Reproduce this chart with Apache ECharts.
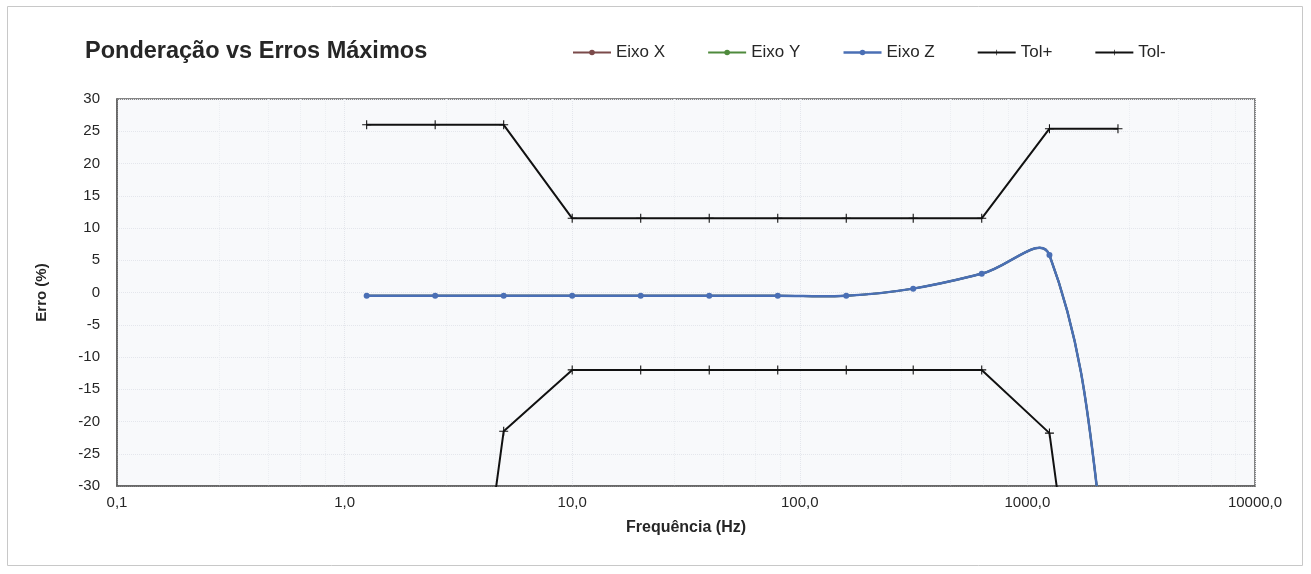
<!DOCTYPE html>
<html>
<head>
<meta charset="utf-8">
<title>Ponderação vs Erros Máximos</title>
<script src="https://cdn.jsdelivr.net/npm/echarts@6/dist/echarts.min.js"></script>
<style>
  html, body { margin: 0; padding: 0; background: #ffffff; }
  #chart { width: 1311px; height: 574px; }
</style>
</head>
<body>
<div id="chart"></div>
<script>
// Frequencies (Hz) of the one-octave measuring points
const freqs = [1.25, 2.5, 5, 10, 20, 40, 80, 160, 315, 630, 1250, 2500];

// Weighting error per axis (%); the last point lies far below the plot
const eixoX = [-0.5, -0.5, -0.5, -0.5, -0.5, -0.5, -0.5, -0.5, 0.6, 2.9, 5.8, -54];
const eixoY = [-0.5, -0.5, -0.5, -0.5, -0.5, -0.5, -0.5, -0.5, 0.6, 2.9, 5.8, -54];
const eixoZ = [-0.5, -0.5, -0.5, -0.5, -0.5, -0.5, -0.5, -0.5, 0.6, 2.9, 5.8, -54];

// Tolerance limits (%)
const tolPlus  = [26, 26, 26, 11.5, 11.5, 11.5, 11.5, 11.5, 11.5, 11.5, 25.4, 25.4];
const tolMinus = [-100, -100, -21.5, -12, -12, -12, -12, -12, -12, -12, -21.8, -100];

// Axis ranges and ticks
const xTicks = [0.1, 1, 10, 100, 1000, 10000];
const yMin = -30, yMax = 30, yStep = 5;

const pair = (vals) => freqs.map((f, i) => [f, vals[i]]);
const plusMark = 'path://M4.4,0 L5.6,0 L5.6,10 L4.4,10 Z M0,4.4 L10,4.4 L10,5.6 L0,5.6 Z';
const FONT = '"Liberation Sans", Arial, sans-serif';
const SMOOTH = 0.4;

// Cardinal-spline segment between point i and i+1, computed in pixel space
function smoothSegment(vals, color, width) {
  return function (params, api) {
    const i = params.dataIndex;
    const n = vals.length;
    if (i >= n - 1) return null;
    const pt = (k) => {
      const j = Math.max(0, Math.min(n - 1, k));
      return api.coord([freqs[j], vals[j]]);
    };
    const ctrl = (k) => {
      const p = pt(k), prev = pt(k - 1), next = pt(k + 1);
      const vx = next[0] - prev[0], vy = next[1] - prev[1];
      const lp = Math.hypot(p[0] - prev[0], p[1] - prev[1]);
      const ln = Math.hypot(next[0] - p[0], next[1] - p[1]);
      const sum = lp + ln || 1;
      return {
        before: [p[0] - vx * SMOOTH * lp / sum, p[1] - vy * SMOOTH * lp / sum],
        after: [p[0] + vx * SMOOTH * ln / sum, p[1] + vy * SMOOTH * ln / sum]
      };
    };
    const a = pt(i), b = pt(i + 1);
    const c0 = ctrl(i).after, c1 = ctrl(i + 1).before;
    return {
      type: 'bezierCurve',
      shape: { x1: a[0], y1: a[1], x2: b[0], y2: b[1], cpx1: c0[0], cpy1: c0[1], cpx2: c1[0], cpy2: c1[1] },
      style: { fill: 'none', stroke: color, lineWidth: width, lineCap: 'round' },
      silent: true
    };
  };
}

// An axis series: markers from a line series, curve from a custom series
function axisSeries(name, vals, color, width, symbolSize, z) {
  return [
    {
      name: name,
      type: 'line',
      data: pair(vals),
      symbol: 'circle',
      symbolSize: symbolSize,
      color: color,
      itemStyle: { color: color },
      lineStyle: { width: width, color: color, opacity: 0 },
      z: z + 1
    },
    {
      name: name + ' ',
      type: 'custom',
      coordinateSystem: 'cartesian2d',
      data: pair(vals),
      clip: true,
      renderItem: smoothSegment(vals, color, width),
      z: z
    }
  ];
}

const COLOR_X = '#7b4a4a', COLOR_Y = '#4f8a3c', COLOR_Z = '#4a6fb5';

const chart = echarts.init(document.getElementById('chart'), null, { renderer: 'canvas' });

chart.setOption({
  animation: false,
  backgroundColor: '#ffffff',
  graphic: [{
    type: 'rect',
    shape: { x: 7.5, y: 6.5, width: 1295, height: 559 },
    style: { fill: 'none', stroke: '#c8c8c8', lineWidth: 1 },
    silent: true,
    z: -10
  }],
  title: {
    text: 'Ponderação vs Erros Máximos',
    left: 80,
    top: 35,
    textStyle: { fontFamily: FONT, fontSize: 23.5, fontWeight: 'bold', color: '#262626' }
  },
  legend: {
    left: 567,
    top: 39,
    itemWidth: 38,
    itemHeight: 7,
    itemGap: 42,
    textStyle: { fontFamily: FONT, fontSize: 17, color: '#262626' },
    data: [
      { name: 'Eixo X', lineStyle: { opacity: 1, width: 2, color: COLOR_X }, itemStyle: { color: COLOR_X } },
      { name: 'Eixo Y', lineStyle: { opacity: 1, width: 2, color: COLOR_Y }, itemStyle: { color: COLOR_Y } },
      { name: 'Eixo Z', lineStyle: { opacity: 1, width: 2.5, color: COLOR_Z }, itemStyle: { color: COLOR_Z } },
      { name: 'Tol+' },
      { name: 'Tol-' }
    ]
  },
  grid: {
    left: 117,
    right: 56,
    top: 99,
    bottom: 88,
    show: true,
    backgroundColor: '#f8f9fb',
    borderColor: '#5f5f5f',
    borderWidth: 1.5
  },
  xAxis: {
    type: 'log',
    logBase: 10,
    min: xTicks[0],
    max: xTicks[xTicks.length - 1],
    name: 'Frequência (Hz)',
    nameLocation: 'middle',
    nameGap: 34,
    nameTextStyle: { fontFamily: FONT, fontSize: 16, fontWeight: 'bold', color: '#262626' },
    axisLine: { show: true, onZero: false, lineStyle: { color: '#5f5f5f', width: 1.5 } },
    axisTick: { show: false },
    axisLabel: {
      margin: 9,
      fontFamily: FONT,
      fontSize: 15,
      color: '#262626',
      formatter: (v) => Number(v).toFixed(1).replace('.', ',')
    },
    splitLine: { show: true, lineStyle: { color: '#e4e6ec', width: 1, type: 'dotted' } },
    minorTick: { show: false, splitNumber: 5 },
    minorSplitLine: { show: true, lineStyle: { color: '#eceef2', width: 1, type: 'dotted' } }
  },
  yAxis: {
    type: 'value',
    min: yMin,
    max: yMax,
    interval: yStep,
    name: 'Erro (%)',
    nameLocation: 'middle',
    nameRotate: 90,
    nameGap: 68,
    nameTextStyle: { fontFamily: FONT, fontSize: 15, fontWeight: 'bold', color: '#262626' },
    axisLine: { show: true, lineStyle: { color: '#5f5f5f', width: 1.5 } },
    axisTick: { show: false },
    axisLabel: { margin: 17, fontFamily: FONT, fontSize: 15, color: '#262626' },
    splitLine: { show: true, lineStyle: { color: '#e4e6ec', width: 1, type: 'dotted' } }
  },
  series: [
    ...axisSeries('Eixo X', eixoX, COLOR_X, 2, 4, 2),
    ...axisSeries('Eixo Y', eixoY, COLOR_Y, 2, 4, 4),
    ...axisSeries('Eixo Z', eixoZ, COLOR_Z, 2.5, 6, 6),
    {
      name: 'Tol+',
      type: 'line',
      data: pair(tolPlus),
      symbol: plusMark,
      symbolSize: 9,
      color: '#111111',
      itemStyle: { color: '#111111' },
      lineStyle: { width: 2, color: '#111111' },
      z: 9
    },
    {
      name: 'Tol-',
      type: 'line',
      data: pair(tolMinus),
      symbol: plusMark,
      symbolSize: 9,
      color: '#111111',
      itemStyle: { color: '#111111' },
      lineStyle: { width: 2, color: '#111111' },
      z: 9
    }
  ]
});
</script>
</body>
</html>
